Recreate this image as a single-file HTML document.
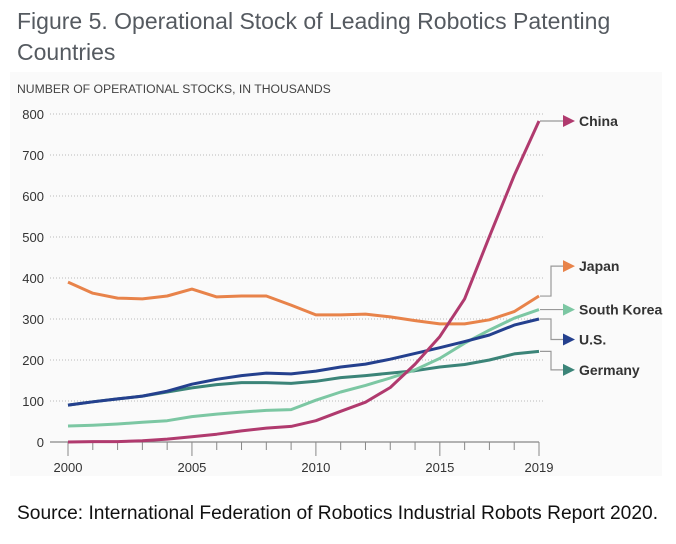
<!DOCTYPE html>
<html><head><meta charset="utf-8">
<style>
body{margin:0;width:676px;height:544px;background:#fff;overflow:hidden;font-family:"Liberation Sans",sans-serif;}
#title{position:absolute;left:17px;top:6px;font-size:23px;line-height:31px;color:#555a60;font-weight:normal;margin:0;}
#panel{position:absolute;left:10px;top:72px;width:652px;height:404px;background:#fafafa;}
#source{position:absolute;left:17px;top:503px;font-size:19.2px;color:#111;white-space:nowrap;}
svg{position:absolute;left:0;top:0;}
</style></head><body>
<h1 id="title">Figure 5. Operational Stock of Leading Robotics Patenting<br>Countries</h1>
<div id="panel"></div>
<svg id="chart" width="676" height="544"></svg>
<div id="source">Source: International Federation of Robotics Industrial Robots Report 2020.</div>
<script>
const years=[2000,2001,2002,2003,2004,2005,2006,2007,2008,2009,2010,2011,2012,2013,2014,2015,2016,2017,2018,2019];
const china=[0,1,1,3,7,13,19,27,34,38,52,75,97,133,190,257,349,501,650,783];
const japan=[390,363,351,349,356,373,354,356,356,334,310,310,312,305,296,288,288,298,318,356];
const korea=[39,41,44,48,52,62,68,73,77,79,102,122,138,156,176,204,241,273,302,323];
const us=[90,98,105,112,124,141,153,162,168,166,173,183,190,202,216,230,245,261,285,300];
const germany=[90,98,105,112,122,132,140,145,145,143,148,157,162,168,174,183,189,200,215,221];
const yTicks=[0,100,200,300,400,500,600,700,800];
const xLabels=[2000,2005,2010,2015,2019];
const seriesNames=["China","Japan","South Korea","U.S.","Germany"];
const labelYs=[783,429,323,250,176]; // label positions in value units
const colors=["#b03a6e","#e8834a","#7cc7a3","#24408e","#3b8478"];
const data=[china,japan,korea,us,germany];

const NS="http://www.w3.org/2000/svg";
const svg=document.getElementById('chart');
const x=v=>68+(v-2000)*(471/19);
const y=v=>442-v*0.41;
function mk(tag,attrs,parent){const e=document.createElementNS(NS,tag);for(const k in attrs)e.setAttribute(k,attrs[k]);(parent||svg).appendChild(e);return e;}

const sub=mk('text',{x:17,y:93,'font-size':12.2,fill:'#444'});


sub.textContent='NUMBER OF OPERATIONAL STOCKS, IN THOUSANDS';

yTicks.forEach(t=>{
  if(t>0){const g=mk('line',{x1:50,x2:545,y1:y(t),y2:y(t),stroke:'#bbb','stroke-width':1,'stroke-dasharray':'1,2'});
  
  }
  const l=mk('text',{x:44,y:y(t)+5,'text-anchor':'end','font-size':13,fill:'#333'});
  
  
  l.textContent=t;
});
const ax=mk('line',{x1:50,x2:x(2019),y1:442,y2:442,stroke:'#888','stroke-width':1.2});


years.forEach(yr=>{
  const major=xLabels.includes(yr);
  const tk=mk('line',{x1:x(yr),x2:x(yr),y1:442,y2:major?456:450,stroke:'#888','stroke-width':1});
  
  
});
xLabels.forEach(yr=>{
  const l=mk('text',{x:x(yr),y:472,'text-anchor':'middle','font-size':13,fill:'#333'});
  
  
  l.textContent=yr;
});

[4,2,3,1,0].forEach(i=>{
  const d=data[i].map((v,j)=>(j?'L':'M')+x(years[j]).toFixed(1)+','+y(v).toFixed(1)).join('');
  const p=mk('path',{d:d,fill:'none',stroke:colors[i],'stroke-width':3,'stroke-linejoin':'round'});
  
  
});

seriesNames.forEach((n,i)=>{
  const last=data[i][data[i].length-1];
  const y0=y(last), y1=y(labelYs[i]);
  const xs=x(2019)+1, xb=x(2019)+12, xa=x(2019)+24;
  const c=mk('path',{d:`M${xs},${y0}H${xb}V${y1}H${xa}`,fill:'none',stroke:'#999','stroke-width':1.2});
  
  
  const a=mk('polygon',{points:`${xa},${y1-6} ${xa+12},${y1} ${xa},${y1+6}`,fill:colors[i]});
  
  
  const t=mk('text',{x:xa+16,y:y1+5,'font-size':14,'font-weight':'bold',fill:'#333'});
  
  
  t.textContent=n;
});
</script>
</body></html>
